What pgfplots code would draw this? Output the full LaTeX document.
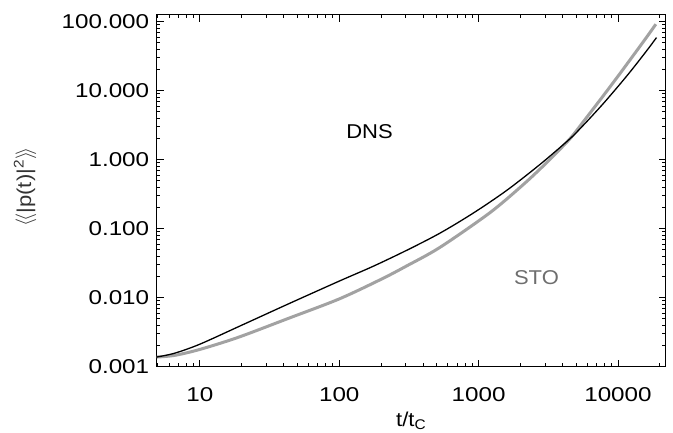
\documentclass[border=0pt]{standalone}
\usepackage{fontspec}
\setmainfont{Liberation Sans}[FakeStretch=1.10]
\newfontfamily\numfont{Liberation Sans}[FakeStretch=1.21]
\usepackage{pgfplots}
\pgfplotsset{compat=1.18}
\usepackage{pgfplotstable}
\definecolor{stocurve}{HTML}{A2A2A2}
\definecolor{stotext}{HTML}{6E6E6E}

\pgfplotstableread{
t y
4.9 0.00138
6.6 0.00157
10 0.00212
20 0.0040
43 0.0081
100 0.0174
175 0.0285
304 0.0485
527 0.086
914 0.168
1585 0.357
2750 0.85
4510 2.0
5500 2.99
6620 4.46
8000 6.8
10000 11.5
12000 17.9
14000 26.5
16500 40.7
18900 58.8
}\dnsdata

\pgfplotstableread{
t y
4.9 0.00138
6.6 0.00146
10 0.00178
18.8 0.00266
43 0.0050
100 0.0096
201 0.0186
304 0.0288
527 0.0535
1203 0.170
2084 0.433
3060 0.897
4510 2.0
5500 3.32
6620 5.40
8000 8.9
10000 16.2
12000 26.7
14000 40.8
16500 64.4
18700 92
}\stodata

\begin{document}
\begin{tikzpicture}[font=\fontsize{20}{24}\selectfont]
\begin{loglogaxis}[
  scale only axis,
  width=509pt, height=351.7pt,
  xmin=4.9, xmax=22000,
  ymin=0.001, ymax=125,
  axis line style={line width=1pt},
  tick style={black, line width=0.9pt},
  major tick length=7pt,
  minor tick length=3.5pt,
  xtick={10,100,1000,10000},
  xticklabels={10,100,1000,10000},
  minor xtick={5,6,7,8,9,20,30,40,50,60,70,80,90,200,300,400,500,600,700,800,900,2000,3000,4000,5000,6000,7000,8000,9000,20000},
  ytick={0.001,0.01,0.1,1,10,100},
  yticklabels={0.001,0.010,0.100,1.000,10.000,100.000},
  minor ytick={0.002,0.003,0.004,0.005,0.006,0.007,0.008,0.009,0.02,0.03,0.04,0.05,0.06,0.07,0.08,0.09,0.2,0.3,0.4,0.5,0.6,0.7,0.8,0.9,2,3,4,5,6,7,8,9,20,30,40,50,60,70,80,90},
  /pgf/number format/assume math mode=true,
  tick label style={font=\fontsize{20}{24}\selectfont\numfont},
  xticklabel style={yshift=-17pt},
  yticklabel style={xshift=-4pt},
  label style={font=\fontsize{20}{24}\selectfont},
  xlabel={t/t\textsubscript{C}},
  xlabel style={at={(axis description cs:0.5,-0.1705)}, anchor=base},
  ylabel={$\langle\!\langle$|p(t)|\textsuperscript{2}$\rangle\!\rangle$},
  ylabel style={at={(axis description cs:-0.2587,0.512)}, anchor=center, text=black!80},
]
\addplot[stocurve, line width=3pt, smooth, tension=0.5] table[x=t,y=y] {\stodata};
\addplot[black, line width=1.3pt, smooth, tension=0.5] table[x=t,y=y] {\dnsdata};
\node[anchor=center, black] at (axis cs:165,2.56) {DNS};
\node[anchor=center, text=stotext] at (axis cs:2600,0.0195) {STO};
\end{loglogaxis}
\pgfresetboundingbox
\path[use as bounding box] (-156.7pt,-66.3pt) rectangle (516.3pt,366.7pt);
\end{tikzpicture}
\end{document}
